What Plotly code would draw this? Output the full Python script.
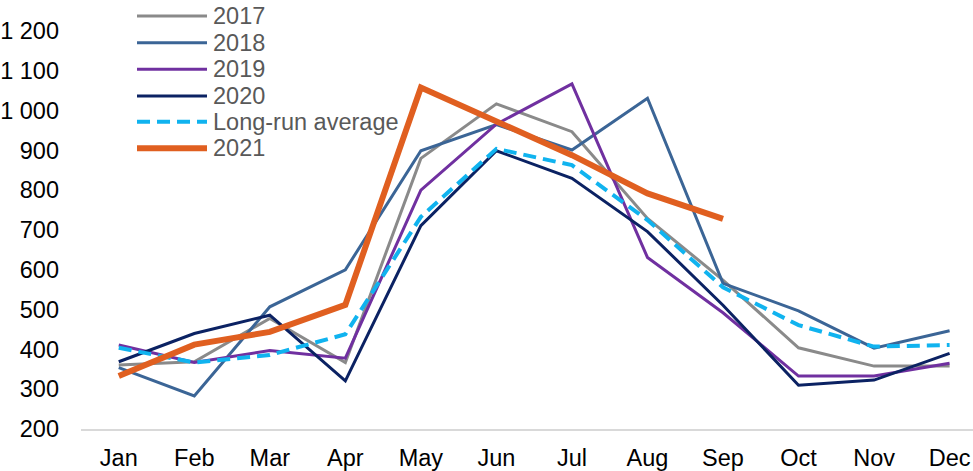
import plotly.graph_objects as go

# Monthly values by year
months = ["Jan", "Feb", "Mar", "Apr", "May", "Jun", "Jul", "Aug", "Sep", "Oct", "Nov", "Dec"]
y2017 = [361, 369, 478, 367, 880, 1017, 947, 729, 574, 404, 358, 358]
y2018 = [354, 283, 507, 600, 899, 965, 901, 1031, 566, 497, 403, 447]
y2019 = [411, 367, 397, 378, 800, 966, 1067, 631, 492, 333, 333, 365]
y2020 = [369, 440, 486, 321, 711, 899, 830, 696, 511, 310, 323, 390]
long_run = [404, 367, 386, 438, 733, 904, 863, 725, 556, 461, 407, 411]
y2021 = [333, 412, 444, 512, 1058, 972, 888, 792, 728]

y_ticks = [200, 300, 400, 500, 600, 700, 800, 900, 1000, 1100, 1200]

series = [
    ("2017", y2017, dict(color="#8a8a8a", width=3)),
    ("2018", y2018, dict(color="#3b6596", width=3)),
    ("2019", y2019, dict(color="#7030a0", width=3)),
    ("2020", y2020, dict(color="#0b2263", width=3)),
    ("Long-run average", long_run, dict(color="#10b3ef", width=4, dash="13px,7px")),
    ("2021", y2021, dict(color="#e05f20", width=6)),
]

W, H = 973, 471
L, R, T, B = 81, 0, 31, 42
plot_w, plot_h = W - L - R, H - T - B
FS = 23.5


def px_to_paper(px, py):
    return (px - L) / plot_w, (H - B - py) / plot_h


fig = go.Figure()
for name, vals, line in series:
    fig.add_trace(go.Scatter(
        x=months[:len(vals)], y=vals, name=name, mode="lines",
        line=line, showlegend=False,
    ))

# Legend drawn as line samples with text labels beside them
row_y = [16, 42.7, 69.3, 96, 121.7, 148.3]
for (name, _, line), ry in zip(series, row_y):
    x0, yy = px_to_paper(137, ry)
    x1, _ = px_to_paper(207, ry)
    fig.add_shape(type="line", xref="paper", yref="paper",
                  x0=x0, x1=x1, y0=yy, y1=yy,
                  line=dict(color=line["color"], width=line["width"],
                            dash=line.get("dash", "solid")))
    tx, _ = px_to_paper(211, ry)
    fig.add_annotation(xref="paper", yref="paper", x=tx, y=yy,
                       xanchor="left", yanchor="middle", showarrow=False,
                       text=name, font=dict(size=FS, color="#595959"))

fig.update_layout(
    width=W, height=H,
    margin=dict(l=L, r=R, t=T, b=B),
    paper_bgcolor="white", plot_bgcolor="white",
    separators=". ",
    font=dict(family="Liberation Sans, Arial, sans-serif", size=FS, color="black"),
    xaxis=dict(
        range=[-0.5, 11.31], showgrid=False, zeroline=False,
        showline=True, linecolor="#d9d9d9", linewidth=2,
        ticks="", ticklabelstandoff=7,
        tickfont=dict(size=FS, color="black"),
    ),
    yaxis=dict(
        range=[200, 1200], tickvals=y_ticks, tickformat=",d",
        showgrid=False, zeroline=False, showline=False,
        ticks="", ticklabelstandoff=21,
        tickfont=dict(size=FS, color="black"),
    ),
)

fig.write_html("out.html")
